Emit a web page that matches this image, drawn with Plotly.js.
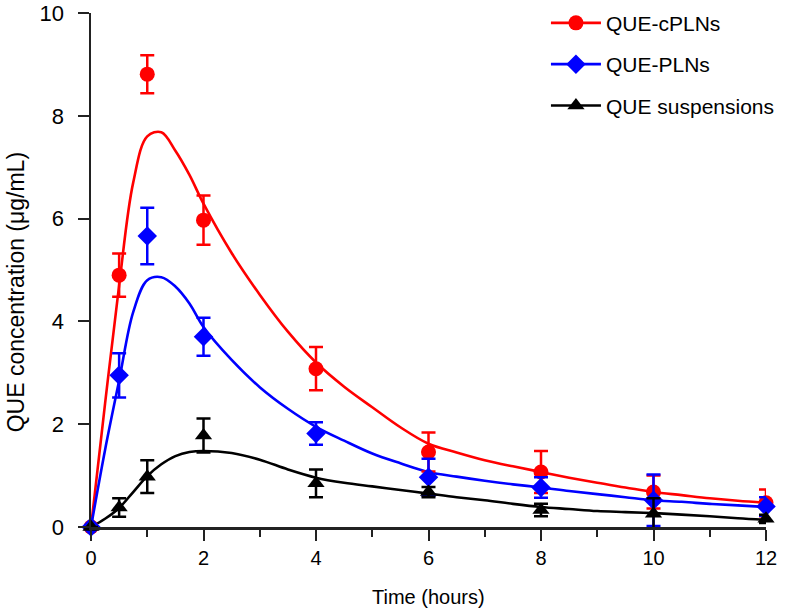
<!DOCTYPE html>
<html>
<head>
<meta charset="utf-8">
<script src="https://cdn.plot.ly/plotly-3.0.1.min.js"></script>
<style>html,body{margin:0;padding:0;background:#fff;}#chart{width:790px;height:612px;}</style>
</head>
<body>
<div id="chart"></div>
<script>
// Measured time points (hours)
var time = [0, 0.5, 1, 2, 4, 6, 8, 10, 12];

// Mean concentrations (µg/mL) and error bars
var cplnMean = [0, 4.90, 8.81, 5.97, 3.08, 1.46, 1.07, 0.68, 0.47];
var cplnErr  = [0, 0.42, 0.37, 0.48, 0.42, 0.38, 0.41, 0.32, 0.26];
var plnMean  = [0, 2.95, 5.66, 3.70, 1.82, 0.97, 0.77, 0.52, 0.40];
var plnErr   = [0, 0.43, 0.55, 0.37, 0.22, 0.36, 0.20, 0.50, 0.18];
var suspMean = [0, 0.38, 0.98, 1.78, 0.85, 0.68, 0.33, 0.26, 0.16];
var suspErr  = [0, 0.18, 0.32, 0.33, 0.27, 0.10, 0.12, 0.30, 0.08];

// Fitted curves
var fitTime  = [0, 0.25, 0.5, 0.75, 1.0, 1.25, 1.5, 1.75, 2.0, 2.5, 3, 3.5, 4, 4.5, 5, 5.5, 6, 6.5, 7, 7.5, 8, 8.5, 9, 9.5, 10, 10.5, 11, 11.5, 12];
var cplnFitY = [0, 2.40, 4.70, 6.70, 7.60, 7.68, 7.32, 6.85, 6.29, 5.33, 4.52, 3.80, 3.20, 2.73, 2.33, 1.94, 1.62, 1.45, 1.30, 1.18, 1.07, 0.96, 0.86, 0.77, 0.68, 0.62, 0.56, 0.51, 0.47];
var plnFitY  = [0, 1.50, 2.85, 4.18, 4.80, 4.86, 4.68, 4.35, 3.89, 3.25, 2.72, 2.30, 1.95, 1.68, 1.43, 1.24, 1.07, 0.98, 0.90, 0.83, 0.77, 0.70, 0.64, 0.58, 0.52, 0.49, 0.45, 0.42, 0.39];
var suspFitY = [0, 0.16, 0.37, 0.68, 0.99, 1.22, 1.38, 1.46, 1.48, 1.44, 1.31, 1.12, 0.96, 0.86, 0.79, 0.72, 0.65, 0.58, 0.52, 0.45, 0.39, 0.35, 0.31, 0.29, 0.27, 0.24, 0.21, 0.17, 0.14];

var seriesNames = ['QUE-cPLNs', 'QUE-PLNs', 'QUE suspensions'];
var yTitle = 'QUE concentration (μg/mL)';
var xTitle = 'Time (hours)';
var colors = ['#ff0000', '#0000ff', '#000000'];
var symbols = ['circle', 'diamond', 'triangle-up'];
var msizes = [15, 15, 15];

var means = [cplnMean, plnMean, suspMean];
var errs = [cplnErr, plnErr, suspErr];
var fitY = [cplnFitY, plnFitY, suspFitY];

var traces = [];
for (var i = 0; i < 3; i++) {
  traces.push({
    x: fitTime, y: fitY[i], type: 'scatter', mode: 'lines',
    line: {color: colors[i], width: 2.6, shape: 'spline', smoothing: 1},
    showlegend: false, hoverinfo: 'skip', cliponaxis: false
  });
}
for (var j = 0; j < 3; j++) {
  traces.push({
    x: time, y: means[j], type: 'scatter', mode: 'markers',
    marker: {color: colors[j], symbol: symbols[j], size: msizes[j]},
    error_y: {type: 'data', array: errs[j], visible: true, color: colors[j], thickness: 2.5, width: 7},
    showlegend: false, cliponaxis: false
  });
}
// legend entries
for (var k = 0; k < 3; k++) {
  traces.push({
    x: [null], y: [null], type: 'scatter', mode: 'lines+markers', name: seriesNames[k],
    legendgroup: 'g' + k,
    line: {color: colors[k], width: 2.6},
    marker: {color: colors[k], symbol: symbols[k], size: msizes[k]}
  });
}

var fontFam = 'Arial, "Liberation Sans", Helvetica, sans-serif';
var layout = {
  width: 790, height: 612,
  margin: {l: 91, r: 24, t: 13, b: 85, autoexpand: false},
  paper_bgcolor: '#fff', plot_bgcolor: '#fff',
  font: {family: fontFam, size: 20, color: '#000'},
  showlegend: true,
  legend: {x: 0.674, y: 1.02, xanchor: 'left', yanchor: 'top', bgcolor: 'rgba(0,0,0,0)',
           font: {family: fontFam, size: 21, color: '#000'}, tracegroupgap: 11, itemwidth: 50},
  xaxis: {
    range: [0, 12], tickvals: [0, 2, 4, 6, 8, 10, 12], ticktext: ['0','2','4','6','8','10','12'],
    ticks: 'outside', ticklen: 11, tickwidth: 2, tickcolor: '#222',
    minor: {tickvals: [1, 3, 5, 7, 9, 11], ticks: 'outside', ticklen: 7, tickwidth: 2, tickcolor: '#222', showgrid: false},
    showline: true, linewidth: 2.5, linecolor: '#222', showgrid: false, zeroline: false,
    tickfont: {size: 20}
  },
  yaxis: {
    range: [0, 10], tickvals: [0, 2, 4, 6, 8, 10], ticktext: ['0','2','4','6','8','10'],
    ticks: 'outside', ticklen: 11, tickwidth: 2, tickcolor: '#222', ticklabelstandoff: 9,
    showline: true, linewidth: 2.5, linecolor: '#222', showgrid: false, zeroline: false,
    tickfont: {size: 22}
  },
  annotations: [{
    text: yTitle, textangle: -90, showarrow: false,
    xref: 'paper', yref: 'paper', x: -0.1115, y: 0.456, xanchor: 'center', yanchor: 'middle',
    font: {family: fontFam, size: 23, color: '#000'}
  }, {
    text: xTitle, showarrow: false,
    xref: 'paper', yref: 'paper', x: 0.5, y: -0.136, xanchor: 'center', yanchor: 'middle',
    font: {family: fontFam, size: 20, color: '#000'}
  }]
};

Plotly.newPlot('chart', traces, layout, {displayModeBar: false, staticPlot: true});
</script>
</body>
</html>
